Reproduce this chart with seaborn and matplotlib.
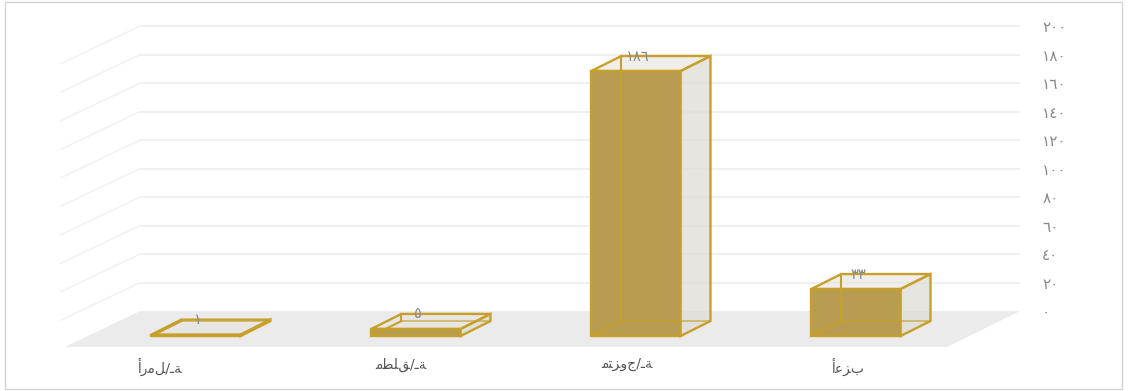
import matplotlib
matplotlib.use("Agg")
import matplotlib.pyplot as plt
from matplotlib.patches import Polygon, Rectangle
from matplotlib.colors import to_rgba
import matplotlib.transforms as mtransforms
import pandas as pd
import seaborn as sns

# ---------------- data ----------------
# category labels (Arabic, logical order, contextual presentation forms)
categories = [
    "\uFE83\uFEAD\uFEE3\uFEDE/\u0640\uFE94",      # أرمل/ـة
    "\uFEE3\uFEC4\uFEE0\uFED6/\u0640\uFE94",      # مطلق/ـة
    "\uFEE3\uFE98\uFEB0\uFEED\uFE9D/\u0640\uFE94", # متزوج/ـة
    "\uFE83\uFECB\uFEB0\uFE8F",                   # أعزب
]
values = [1, 5, 186, 33]
tick_values = [0, 20, 40, 60, 80, 100, 120, 140, 160, 180, 200]

AR_DIGITS = str.maketrans("0123456789", "٠١٢٣٤٥٦٧٨٩")
def ar(n):
    return str(n).translate(AR_DIGITS)

tick_labels = [ar(v) for v in tick_values]
value_labels = [ar(v) for v in values]

# ---------------- style ----------------
FRONT = "#b89c52"
SIDE = to_rgba("#dfddd6", 0.75)
TOP = to_rgba("#e6e3dc", 0.6)
EDGE = "#c6a02a"
FLOOR = "#ebebeb"
GRID = "#ececec"
TXT = "#8a8a8a"

W, H = 1129, 391
BAR_W = 0.405
DX, DY = 0.136, 10.5          # bar depth (category units, value units)
BACK = 17.5                    # value offset of the back wall
FLOOR_DX, FLOOR_DY = 0.341, 25.3  # floor depth vector
FRONT_Y = -7.7                 # floor front edge (value units)
XL = (-0.891, 3.7455)
YL = (-14.03, 235.8)
LABEL_SHIFT_PX = [-36, -15, -9, -8]   # perspective shift of category labels

sns.set_theme(style="white")
plt.rcParams["font.family"] = ["DejaVu Sans"]

fig = plt.figure(figsize=(W / 100, H / 100), dpi=100)
fig.patch.set_facecolor("white")
ax = fig.add_axes([0, 35 / H, 1020 / W, 356 / H])
ax.set_facecolor("none")

df = pd.DataFrame({"cat": categories, "val": values})
sns.barplot(data=df, x="cat", y="val", ax=ax, color=FRONT, saturation=1,
            width=BAR_W, edgecolor=EDGE, linewidth=1.7, zorder=3,
            errorbar=None)

ax.set_xlim(*XL)
ax.set_ylim(*YL)

# floor
floor_back_l = -0.2545
floor_back_r = XL[1]
floor = Polygon([(floor_back_l - FLOOR_DX, FRONT_Y), (floor_back_r - FLOOR_DX + 0.009, FRONT_Y),
                 (floor_back_r, BACK), (floor_back_l, BACK)],
                closed=True, facecolor=FLOOR, edgecolor="none", zorder=0.5)
ax.add_patch(floor)

# back wall grid + left wall slanted lines
for v in tick_values[1:]:
    y = v + BACK
    ax.plot([floor_back_l, XL[1]], [y, y], color=GRID, lw=1.1, zorder=0.3)
    ax.plot([floor_back_l, floor_back_l - FLOOR_DX - 0.02], [y, y - FLOOR_DY - 1.2],
            color="#f1f1f1", lw=1.1, zorder=0.3, solid_capstyle="round")

# 3D depth faces for each bar
bars = [p for p in ax.patches if isinstance(p, Rectangle)][:len(values)]
for p, lab in zip(bars, value_labels):
    x0, w, h = p.get_x(), p.get_width(), p.get_height()
    x1 = x0 + w
    side = Polygon([(x1, 0), (x1 + DX, DY), (x1 + DX, h + DY), (x1, h)], closed=True,
                   facecolor=SIDE, edgecolor=EDGE, lw=1.7, zorder=3.2)
    top = Polygon([(x0, h), (x1, h), (x1 + DX, h + DY), (x0 + DX, h + DY)], closed=True,
                  facecolor=TOP, edgecolor=EDGE, lw=1.7, zorder=3.3)
    ax.add_patch(side)
    ax.add_patch(top)
    # back wireframe (visible through the faces)
    ax.plot([x0 + DX, x0 + DX], [DY, h + DY], color=EDGE, lw=1.5, zorder=4)
    ax.plot([x0 + DX, x1 + DX], [DY, DY], color=EDGE, lw=1.2, alpha=0.7, zorder=4)
    ax.plot([x0, x0 + DX], [0, DY], color=EDGE, lw=1.5, zorder=4)
    ax.text(p.get_x() + w / 2 + 0.01, h + DY, lab, ha="center", va="center",
            fontsize=10.5, color=TXT, zorder=5)

for s in ax.spines.values():
    s.set_visible(False)
ax.grid(False)
ax.set_xlabel("")
ax.set_ylabel("")
ax.tick_params(axis="x", length=0, pad=1, labelsize=10, labelcolor="#555555")
for lbl, sh in zip(ax.get_xticklabels(), LABEL_SHIFT_PX):
    lbl.set_transform(lbl.get_transform() +
                      mtransforms.ScaledTranslation(sh / 100, 0, fig.dpi_scale_trans))

ax.yaxis.tick_right()
ax.set_yticks([v + BACK for v in tick_values])
ax.set_yticklabels(tick_labels)
ax.tick_params(axis="y", length=0, pad=16, labelsize=11, labelcolor=TXT)

# outer frame
fig.add_artist(Rectangle((5 / W, 2 / H), 1117 / W, 387 / H, transform=fig.transFigure,
                         fill=False, edgecolor="#d4d4d4", lw=1))

fig.savefig("out.png", dpi=100)
